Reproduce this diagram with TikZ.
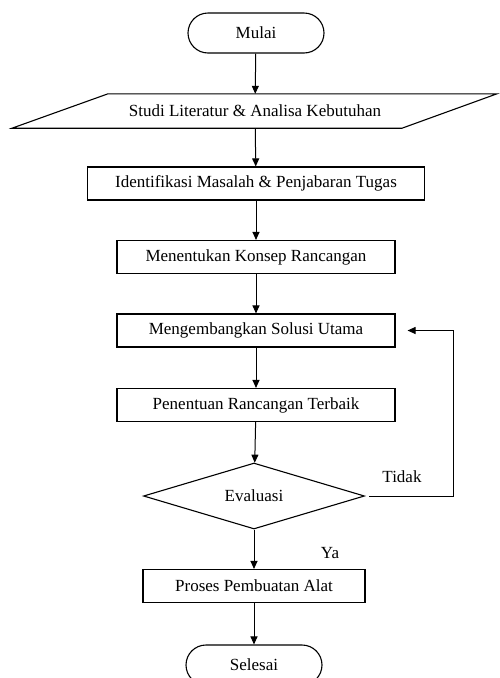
\documentclass[tikz,border=0pt]{standalone}
\usepackage{fontspec}
\setmainfont{Liberation Serif}
\usetikzlibrary{calc}
\usetikzlibrary{arrows.meta}
\usetikzlibrary{shapes.geometric}

\begin{document}
\begin{tikzpicture}[x=1pt, y=-1pt, font=\fontsize{17}{20}\selectfont,
  >={Triangle[length=8pt,width=7pt]},
  termbox/.style={draw, line width=1.1pt, rounded corners=20pt, minimum width=136pt, minimum height=40pt},
  procbox/.style={draw, line width=1.1pt, minimum height=33pt},
  iobox/.style={minimum height=34pt, minimum width=300pt},
  decbox/.style={draw, line width=1.1pt, diamond, aspect=3.35, minimum width=221pt, minimum height=66pt, inner sep=0pt},
  link/.style={line width=1pt, ->}]
\useasboundingbox (0,0) rectangle (500,678);
\clip (0,0) rectangle (500,678);
\node[termbox] (mulai) at (256,33) {Mulai};
\node[iobox] (studi) at (255,111) {Studi Literatur \& Analisa Kebutuhan};
\draw[line width=1.1pt] ($(studi.north)+(-147,0)$) -- ($(studi.north)+(242,0)$) -- ($(studi.south)+(147,0)$) -- ($(studi.south)+(-243,0)$) -- cycle;
\node[procbox, minimum width=337pt] (ident) at (256,183.5) {Identifikasi Masalah \& Penjabaran Tugas};
\node[procbox, minimum width=278pt] (konsep) at (256,257) {Menentukan Konsep Rancangan};
\node[procbox, minimum width=278pt] (solusi) at (256,330.5) {Mengembangkan Solusi Utama};
\node[procbox, minimum width=278pt] (terbaik) at (256,405) {Penentuan Rancangan Terbaik};
\node[decbox] (eval) at (254,496) {Evaluasi};
\node[procbox, minimum width=222pt] (alat) at (254,586) {Proses Pembuatan Alat};
\node[termbox] (selesai) at (254,665) {Selesai};
\node (tidak) at (402,477) {Tidak};
\node (ya) at (330,553) {Ya};
% alur utama
\foreach \a/\b in {mulai/studi, studi/ident, ident/konsep, konsep/solusi, solusi/terbaik, terbaik/eval, eval/alat, alat/selesai}
  \draw[link] (\a) -- (\b);
% kembali jika tidak
\draw[link, shorten <=4pt, shorten >=12pt] (eval.east) -- ++(88,0) |- (solusi.east);
\end{tikzpicture}
\end{document}
